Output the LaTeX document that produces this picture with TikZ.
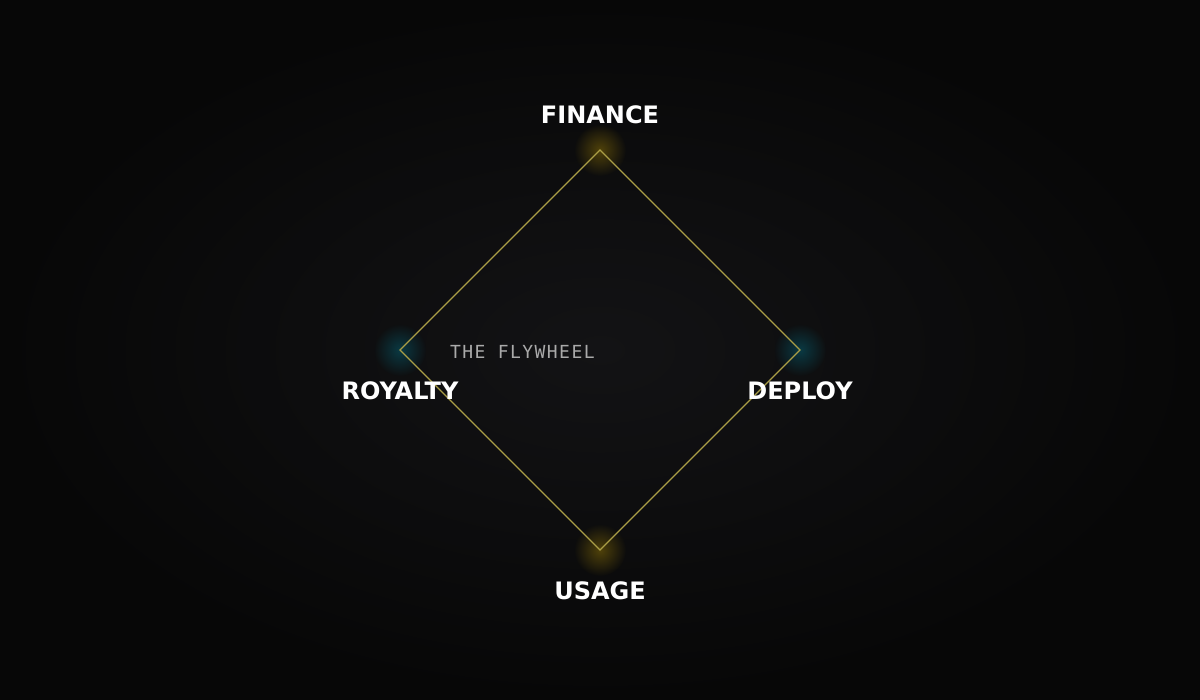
\documentclass[tikz,border=0pt]{standalone}
\usepackage{fontspec}
\setmainfont{DejaVu Sans}
\newfontfamily\flymono[LetterSpace=8]{DejaVu Sans Mono}
\usetikzlibrary{fadings}

\definecolor{bgin}{RGB}{19,19,21}
\definecolor{bgout}{RGB}{7,7,7}
\definecolor{rim}{RGB}{170,158,70}
\definecolor{glowgold}{RGB}{80,66,10}
\definecolor{glowteal}{RGB}{10,58,68}
\definecolor{mutedtxt}{RGB}{170,170,170}

\tikzfading[name=glowfade, inner color=transparent!0, outer color=transparent!100]

\tikzset{
  stagelabel/.style={anchor=base, text=white, font=\fontsize{24}{28}\selectfont\bfseries, inner sep=0pt},
  goldglow/.style={fill=glowgold, path fading=glowfade},
  tealglow/.style={fill=glowteal, path fading=glowfade}
}

\begin{document}
\begin{tikzpicture}[x=1pt,y=1pt]

% background
\shade [inner color=bgin, outer color=bgout] (0,0) rectangle (1200,700);
\useasboundingbox (0,0) rectangle (1200,700);

% corners of the wheel
\coordinate (finance) at (600,550);
\coordinate (deploy) at (800,350);
\coordinate (usage) at (600,150);
\coordinate (royalty) at (400,350);

\fill [goldglow] (finance) circle (26);
\fill [goldglow] (usage) circle (26);
\fill [tealglow] (deploy) circle (26);
\fill [tealglow] (royalty) circle (26);

\draw [rim, line width=1.2pt] (finance) -- (deploy) -- (usage) -- (royalty) -- cycle;

\node [stagelabel] (financelbl) at (600,576) {FINANCE};
\node [stagelabel] (deploylbl) at (800,300.5) {DEPLOY};
\node [stagelabel] (usagelbl) at (600,100.5) {USAGE};
\node [stagelabel] (royaltylbl) at (400,300.5) {ROYALTY};

\node [anchor=base west, inner sep=0pt, text=mutedtxt, font=\flymono\fontsize{18}{22}\selectfont] (flywheel) at (450,341) {THE FLYWHEEL};

\end{tikzpicture}
\end{document}
